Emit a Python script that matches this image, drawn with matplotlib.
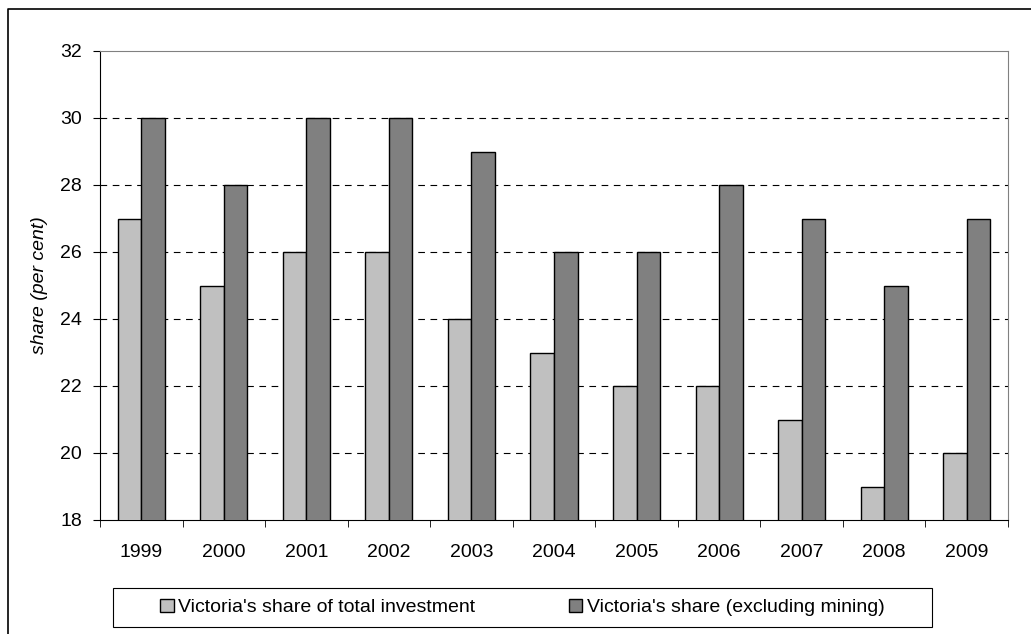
import numpy as np
import matplotlib
matplotlib.use("Agg")
import matplotlib.pyplot as plt
from matplotlib.patches import Patch, Rectangle
from matplotlib.lines import Line2D
from matplotlib.ticker import FixedLocator

# data
years = ["1999", "2000", "2001", "2002", "2003", "2004", "2005", "2006", "2007", "2008", "2009"]
share_total = [27, 25, 26, 26, 24, 23, 22, 22, 21, 19, 20]
share_excl_mining = [30, 28, 30, 30, 29, 26, 26, 28, 27, 25, 27]
series_names = ["Victoria's share of total investment", "Victoria's share (excluding mining)"]

plt.rcParams['font.family'] = ['Liberation Sans', 'DejaVu Sans']
plt.rcParams['font.size'] = 14

W, H = 1031, 634
fig = plt.figure(figsize=(W / 100, H / 100), dpi=100)

# plot area in pixels
left, top, right, bottom = 100, 51, 1008, 520
ax = fig.add_axes([left / W, 1 - bottom / H, (right - left) / W, (bottom - top) / H])

x = np.arange(len(years))
bw = 0.285
light = '#C0C0C0'
dark = '#808080'

ax.bar(x - bw / 2, share_total, bw, color=light, edgecolor='black', linewidth=1.0, zorder=3)
ax.bar(x + bw / 2, share_excl_mining, bw, color=dark, edgecolor='black', linewidth=1.0, zorder=3)

ax.set_ylim(18, 32)
ax.set_xlim(-0.5, len(years) - 0.5)
ax.set_yticks(np.arange(18, 33, 2))

# category labels at centres, tick marks between categories
ax.set_xticks(x)
ax.set_xticklabels(years)
ax.tick_params(axis='x', which='major', length=0, pad=17)
ax.xaxis.set_minor_locator(FixedLocator(np.arange(-0.5, len(years), 1.0)))
ax.tick_params(axis='x', which='minor', length=5, direction='out', color='black')
ax.tick_params(axis='y', length=5, direction='out', pad=8)

# dashed gridlines
for yv in range(20, 31, 2):
    ax.axhline(yv, color='black', linestyle=(0, (6, 5)), linewidth=0.8, zorder=1)

ax.spines['top'].set_color('#808080')
ax.spines['right'].set_color('#808080')
ax.spines['left'].set_color('black')
ax.spines['bottom'].set_color('black')

ax.set_ylabel('share (per cent)', style='italic')
ax.yaxis.set_label_coords((48 - left) / (right - left), 0.5)

# legend box
lx0, ly0, lx1, ly1 = 113, 588, 932, 627
fig.add_artist(Rectangle((lx0 / W, 1 - ly1 / H), (lx1 - lx0) / W, (ly1 - ly0) / H,
                         transform=fig.transFigure, facecolor='white', edgecolor='black', linewidth=0.8))
handles = [Patch(facecolor=light, edgecolor='black', linewidth=1.0),
           Patch(facecolor=dark, edgecolor='black', linewidth=1.0)]
fig.legend(handles, series_names, loc='center', ncol=2, frameon=False,
           bbox_to_anchor=((lx0 + lx1) / 2 / W, 1 - (ly0 + ly1) / 2 / H),
           handlelength=0.7, handleheight=0.7, handletextpad=0.25, columnspacing=4.8)

# outer frame (left and top edges only)
fig.add_artist(Line2D([8 / W, 8 / W, 1.0], [0.0, 1 - 9 / H, 1 - 9 / H],
                      transform=fig.transFigure, color='black', linewidth=1.2))

fig.savefig('out.png', dpi=100)
